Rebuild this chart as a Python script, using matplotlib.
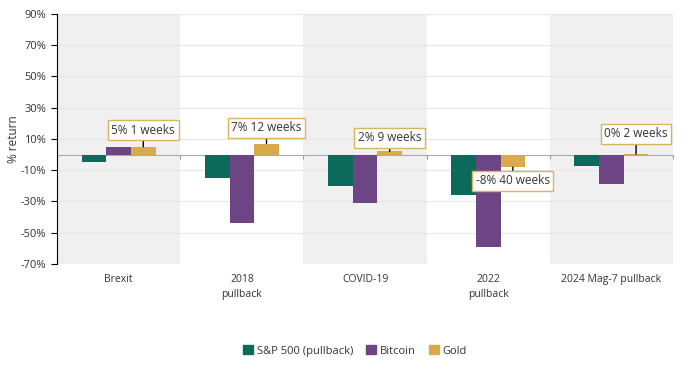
import numpy as np
import matplotlib
matplotlib.use('Agg')
import matplotlib.pyplot as plt
from matplotlib.patches import Patch

plt.rcParams['font.family'] = ['Open Sans', 'DejaVu Sans']

# data
categories = ['Brexit', '2018\npullback', 'COVID-19', '2022\npullback', '2024 Mag-7 pullback']
sp500 = [-5, -15, -20, -26, -7]
bitcoin = [5, -44, -31, -59, -19]
gold = [5, 7, 2, -8, 0.3]
gold_labels = ['5% 1 weeks', '7% 12 weeks', '2% 9 weeks', '-8% 40 weeks', '0% 2 weeks']
yticks = [90, 70, 50, 30, 10, -10, -30, -50, -70]

c_sp = '#0b6a5a'
c_btc = '#6d4584'
c_gold = '#d8aa4b'
txt = '#333333'

fig = plt.figure(figsize=(6.96, 3.74), dpi=100)
ax = fig.add_axes([0.082, 0.294, 0.885, 0.669])

x = np.arange(len(categories))
w = 0.2

# alternating background bands
for i in x:
    if i % 2 == 0:
        ax.axvspan(i - 0.5, i + 0.5, color='#f0f0f1', zorder=0, lw=0)

ax.bar(x - w, sp500, w, color=c_sp, zorder=3, label='S&P 500 (pullback)')
ax.bar(x, bitcoin, w, color=c_btc, zorder=3, label='Bitcoin')
ax.bar(x + w, gold, w, color=c_gold, zorder=3, label='Gold')

ax.set_xlim(-0.5, len(categories) - 0.5)
ax.set_ylim(-70, 90)
ax.set_yticks(yticks)
ax.set_yticklabels([f'{v}%' for v in yticks], fontsize=8, color=txt)
ax.yaxis.grid(True, color='#e6e6e6', lw=0.8, zorder=1)
ax.set_axisbelow(True)
ax.set_ylabel('% return', fontsize=8.5, color=txt)
ax.yaxis.set_label_coords(-0.06, 0.5)

ax.set_xticks(x)
ax.set_xticklabels(categories, fontsize=7.5, color=txt, linespacing=1.5)
ax.tick_params(axis='x', length=0, pad=7)
ax.tick_params(axis='y', length=4, color='black', pad=4)

for s in ['top', 'right', 'bottom']:
    ax.spines[s].set_visible(False)
ax.spines['left'].set_color('black')

# zero line with ticks at category boundaries
zero_frac = (0 - (-70)) / 160
sec = ax.secondary_xaxis(zero_frac)
sec.set_xticks(np.arange(len(categories) + 1) - 0.5)
sec.set_xticklabels([])
sec.tick_params(length=3, color='#999999', direction='out')
sec.spines['bottom'].set_color('#aaaaaa')
sec.spines['bottom'].set_linewidth(0.8)

# gold annotations
offsets = [12, 11.5, 10, -10, 14.5]
for i, (v, lab, off) in enumerate(zip(gold, gold_labels, offsets)):
    ax.annotate(lab, xy=(i + w, v), xytext=(0, off), textcoords='offset points',
                ha='center', va='center', fontsize=8.5, color=txt, zorder=5,
                bbox=dict(boxstyle='square,pad=0.3', fc='white', ec='#d9b35e', lw=1),
                arrowprops=dict(arrowstyle='-', color='black', lw=1, shrinkA=0, shrinkB=0))

handles = [Patch(color=c_sp, label='S&P 500 (pullback)'),
           Patch(color=c_btc, label='Bitcoin'),
           Patch(color=c_gold, label='Gold')]
fig.legend(handles=handles, loc='center', bbox_to_anchor=(0.51, 0.062), ncol=3,
           frameon=False, fontsize=8, handlelength=0.9, handleheight=0.9,
           handletextpad=0.3, columnspacing=1.2, labelcolor=txt)

fig.savefig('out.png', dpi=100)
